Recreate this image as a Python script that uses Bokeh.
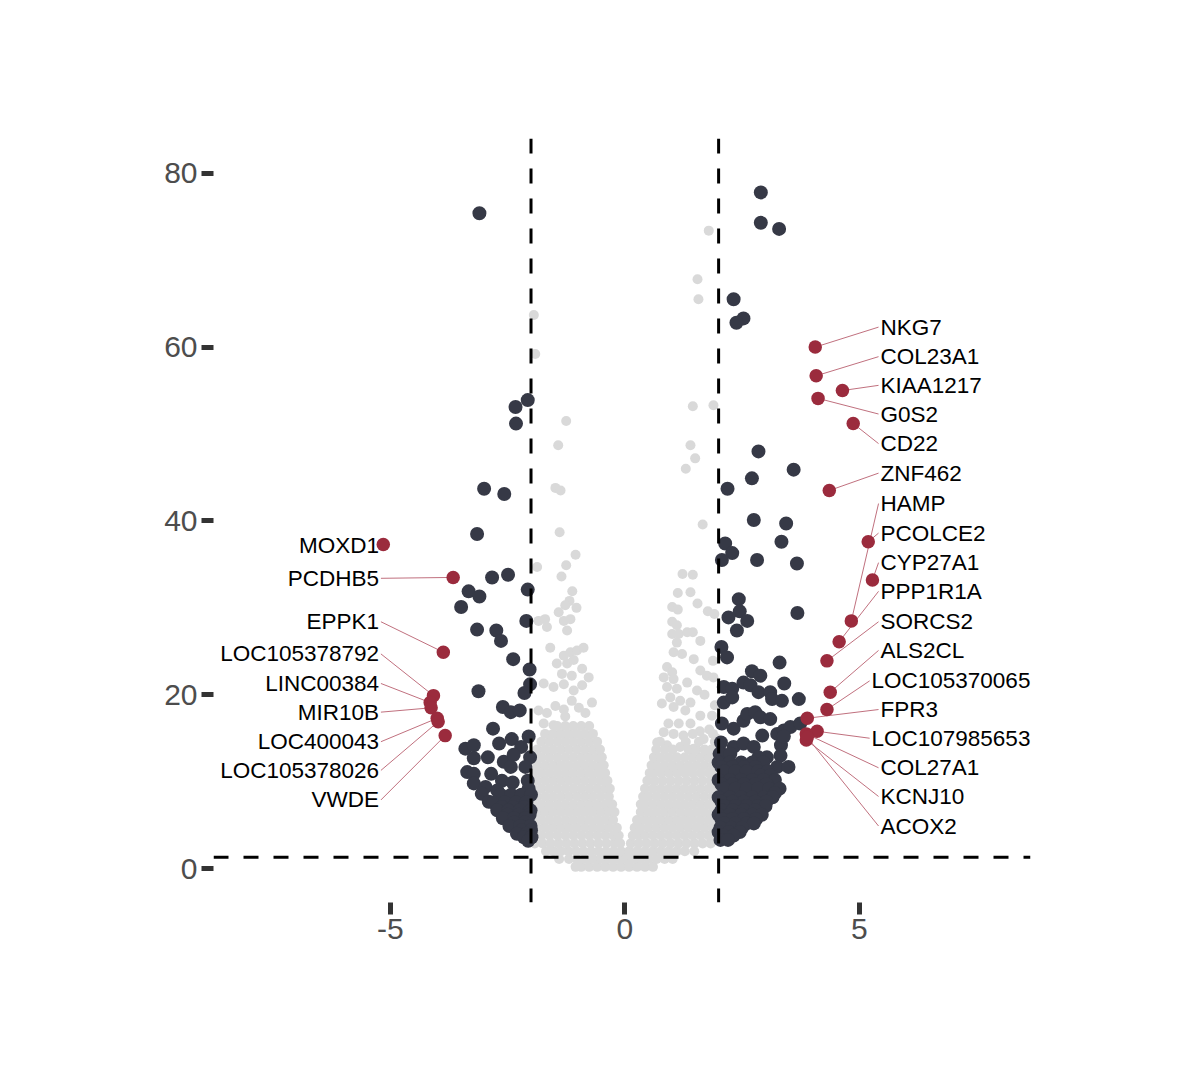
from bokeh.plotting import figure
from bokeh.models import Range1d, Span
from bokeh.embed import file_html
from bokeh.resources import INLINE
from bokeh.core.properties import value

# ---------------- data ----------------
# Non-significant genes (gray): dense rows (log2FC values per -log10 p row)
gray_rows_y = [0.2, 1.1, 2.0, 2.9, 3.8, 4.7, 5.6, 6.5, 7.4, 8.3, 9.2, 10.1, 11.0, 11.9, 12.8, 13.7, 14.6, 15.5, 16.4]
gray_rows_x = [
    [-1.05, -0.93, -0.76, -0.59, -0.42, -0.25, -0.08, 0.09, 0.26, 0.43, 0.60],
    [-1.40, -1.19, -1.02, -0.85, -0.68, -0.51, -0.34, -0.17, -0.03, 0.03, 0.17, 0.34, 0.51, 0.68, 0.85, 1.02],
    [-1.68, -1.52, -1.36, -1.20, -1.04, -0.88, -0.72, -0.56, -0.40, -0.24, -0.08, 0.09, 0.26, 0.43, 0.60, 0.77, 0.94, 1.11, 1.28, 1.48],
    [-1.92, -1.75, -1.58, -1.41, -1.24, -1.07, -0.90, -0.73, -0.56, -0.39, -0.22, -0.10, 0.13, 0.30, 0.47, 0.64, 0.81, 0.98, 1.15, 1.32, 1.49, 1.66, 1.83],
    [-1.95, -1.78, -1.61, -1.44, -1.27, -1.10, -0.93, -0.76, -0.59, -0.42, -0.25, -0.13, 0.17, 0.30, 0.43, 0.60, 0.77, 0.94, 1.11, 1.28, 1.45, 1.62, 1.79, 1.95],
    [-1.95, -1.87, -1.70, -1.53, -1.36, -1.19, -1.02, -0.85, -0.68, -0.51, -0.34, -0.17, 0.21, 0.34, 0.51, 0.68, 0.85, 1.02, 1.19, 1.36, 1.53, 1.70, 1.87, 1.95],
    [-1.95, -1.78, -1.61, -1.44, -1.27, -1.10, -0.93, -0.76, -0.59, -0.42, -0.25, 0.26, 0.43, 0.60, 0.77, 0.94, 1.11, 1.28, 1.45, 1.62, 1.79, 1.95],
    [-1.95, -1.87, -1.70, -1.53, -1.36, -1.19, -1.02, -0.85, -0.68, -0.51, -0.34, -0.22, 0.34, 0.51, 0.68, 0.85, 1.02, 1.19, 1.36, 1.53, 1.70, 1.87, 1.95],
    [-1.95, -1.78, -1.61, -1.44, -1.27, -1.10, -0.93, -0.76, -0.59, -0.42, -0.27, 0.34, 0.43, 0.60, 0.77, 0.94, 1.11, 1.28, 1.45, 1.62, 1.79, 1.95],
    [-1.95, -1.87, -1.70, -1.53, -1.36, -1.19, -1.02, -0.85, -0.68, -0.51, -0.34, 0.39, 0.51, 0.68, 0.85, 1.02, 1.19, 1.36, 1.53, 1.70, 1.87, 1.95],
    [-1.95, -1.78, -1.61, -1.44, -1.27, -1.10, -0.93, -0.76, -0.59, -0.42, -0.32, 0.43, 0.60, 0.77, 0.94, 1.11, 1.28, 1.45, 1.62, 1.79, 1.95],
    [-1.95, -1.87, -1.70, -1.53, -1.36, -1.19, -1.02, -0.85, -0.68, -0.51, -0.37, 0.48, 0.64, 0.81, 0.98, 1.15, 1.32, 1.49, 1.66, 1.83, 1.95],
    [-1.95, -1.78, -1.61, -1.44, -1.27, -1.10, -0.93, -0.76, -0.59, -0.42, 0.53, 0.60, 0.77, 0.94, 1.11, 1.28, 1.45, 1.62, 1.79, 1.95],
    [-1.95, -1.87, -1.70, -1.53, -1.36, -1.19, -1.02, -0.85, -0.68, -0.51, -0.45, 0.57, 0.68, 0.85, 1.02, 1.19, 1.36, 1.53, 1.70, 1.87, 1.95],
    [-1.95, -1.78, -1.61, -1.44, -1.27, -1.10, -0.93, -0.76, -0.59, -0.49, 0.62, 0.77, 0.94, 1.11, 1.28, 1.45, 1.62, 1.79, 1.92],
    [-1.87, -1.70, -1.53, -1.36, -1.19, -1.02, -0.85, -0.68, -0.53, 0.67, 0.85, 1.02, 1.36, 1.53, 1.70, 1.85],
    [-1.78, -1.61, -1.44, -1.27, -1.10, -0.93, -0.76, -0.59, 0.75, 1.30, 1.58, 1.92],
    [-1.70, -1.53, -1.36, -1.19, -1.02, -0.85, -0.68, 1.45, 1.88],
    [-1.44, -1.27, -1.10, -0.93, -0.76],
]
# Non-significant genes (gray): scattered points
gray_x = [-1.94, -1.91, -1.25, -1.42, -1.48, -1.37, -1.39, -1.05, -1.87, -1.25, -1.35, -1.12, -1.18, -1.27, -1.03,
          -1.41, -1.84, -1.70, -1.66, -1.30, -1.16, -1.23, -1.59, -1.30, -1.16, -1.02, -0.88, -1.45, -1.23, -1.09,
          -0.91, -1.34, -1.13, -0.77, -1.73, -1.52, -1.30, -1.09, -0.91, -1.13, -0.70, -1.48, -1.30, -0.98, -1.84,
          -1.66, -1.27, -0.84, -1.73, -1.52,
          1.79, 1.55, 1.57, 1.45, 1.89, 1.40, 1.50, 1.30, 1.66, 1.23, 1.45, 1.13, 1.40, 1.01, 1.13, 1.55, 1.77, 1.91,
          1.01, 1.11, 1.01, 1.15, 1.33, 1.45, 1.11, 1.61, 1.04, 1.22, 1.47, 1.88, 0.90, 1.01, 1.61, 0.83, 1.04, 1.33,
          1.75, 1.89, 0.90, 1.11, 1.54, 0.97, 1.18, 1.40, 0.79, 1.04, 1.29, 1.61, 1.86, 0.93, 1.15, 1.40, 0.83, 1.04,
          1.25, 1.68, 0.69, 0.90, 1.18, 1.47, 1.75, 1.70, 1.92, 1.80, 1.95, 1.60]
gray_y = [63.7, 59.2, 51.5, 48.7, 43.8, 43.5, 38.7, 36.1, 34.7, 34.9, 33.6, 31.9, 30.8, 30.3, 30.0,
          29.5, 28.5, 28.7, 27.8, 28.5, 28.7, 27.4, 25.4, 24.5, 24.9, 25.1, 25.4, 23.6, 23.6, 24.0,
          23.0, 22.4, 22.2, 22.0, 21.3, 20.9, 21.2, 20.5, 21.1, 19.3, 19.1, 18.7, 18.3, 18.5, 18.2,
          17.9, 17.5, 17.9, 16.7, 16.5,
          73.4, 67.8, 65.5, 53.2, 53.3, 48.7, 47.2, 46.0, 39.6, 33.9, 33.8, 31.7, 31.8, 30.1, 29.8, 30.5, 29.6, 29.3,
          28.4, 28.0, 27.0, 27.0, 27.2, 27.2, 26.0, 26.2, 24.9, 24.7, 24.1, 23.9, 23.2, 22.6, 22.8, 22.0, 21.8, 21.4,
          22.2, 22.0, 20.9, 20.7, 20.5, 19.7, 19.3, 19.1, 19.0, 18.6, 18.2, 17.6, 17.6, 16.7, 16.7, 16.7, 15.7, 15.5,
          15.3, 14.9, 14.5, 14.2, 14.0, 13.8, 13.4, 20.0, 18.8, 16.0, 15.0, 15.8]

# Significant genes (dark): scattered points
dark_x = [-3.10, -2.07, -2.33, -2.32, -3.00, -2.57, -3.15, -2.83, -2.49, -3.33, -3.10, -3.49, -2.07, -3.15, -2.74,
          -2.64, -2.10, -2.38, -2.03, -2.02, -2.14, -3.12, -2.60, -2.43, -2.24, -2.81, -2.05, -2.41, -2.68, -3.40,
          -3.22, -2.21, -3.22, -2.92, -2.02, -2.58, -2.37, -2.43, -2.12, -3.36, -3.22, -2.85, -3.22, -2.62, -2.39,
          -2.07, -2.97, -3.05, -2.72, -2.90, -2.51, -2.23, -2.05,
          2.90, 2.90, 3.29, 2.32, 2.53, 2.38, 2.85, 3.60, 2.71, 2.19, 2.75, 3.44, 3.34, 2.14, 2.29, 2.07, 2.82, 3.67,
          2.43, 2.45, 2.21, 2.61, 2.39, 3.68, 2.06, 2.18, 3.30, 2.71, 2.89, 3.40, 2.11, 2.29, 2.53, 2.68, 2.85, 3.10,
          3.14, 3.35, 3.71, 2.11, 2.29, 2.07, 2.32, 2.53, 2.61, 2.78, 2.89, 3.10, 2.93, 3.25, 3.39, 3.53, 3.74, 3.33,
          3.39, 3.32, 3.03, 3.25, 3.49, 2.07, 2.32, 2.53, 2.75, 2.85]
dark_y = [75.4, 53.9, 53.1, 51.2, 43.7, 43.1, 38.5, 33.5, 33.8, 31.9, 31.3, 30.1, 32.1, 27.5, 27.4,
          26.2, 28.5, 24.1, 22.9, 21.2, 20.2, 20.4, 18.6, 18.0, 18.2, 16.1, 15.2, 14.9, 14.4, 13.8,
          14.2, 14.0, 12.7, 12.8, 12.8, 12.3, 13.1, 11.7, 11.7, 11.1, 10.9, 10.9, 9.8, 10.1, 9.9,
          10.1, 9.4, 8.6, 9.0, 7.7, 8.2, 8.4, 9.2,
          77.8, 74.3, 73.6, 65.5, 63.3, 62.8, 48.0, 45.9, 44.9, 43.7, 40.1, 39.7, 37.6, 37.4, 36.3, 35.5, 35.5, 35.1,
          31.0, 29.6, 28.9, 28.5, 27.4, 29.4, 25.5, 24.3, 23.7, 22.7, 22.2, 21.3, 20.9, 20.7, 21.4, 21.1, 20.3, 20.3,
          19.5, 19.3, 19.5, 19.1, 19.7, 16.7, 16.1, 17.0, 17.8, 18.0, 17.4, 17.2, 15.3, 15.5, 15.9, 16.3, 16.7, 14.2,
          15.2, 13.0, 12.8, 11.7, 11.7, 13.2, 14.0, 14.4, 14.0, 12.8]
# Significant genes (dark): dense rows near the fold-change cut-offs
dark_rows_y = [8.5, 7.6, 7.1, 6.7, 6.2, 5.8, 5.3, 4.9, 4.4, 4.0, 3.6, 3.2,
               14.5, 13.2, 12.2, 11.7, 11.2, 10.7, 10.2, 9.7, 9.2, 8.7, 8.2, 7.7, 7.2, 6.7, 6.2, 5.7, 5.2, 4.7, 4.2, 3.8, 3.3]
dark_rows_x = [
    [-2.65, -2.42, -2.20, -2.00], [-2.80, -2.56, -2.32, -2.10], [-2.62, -2.38, -2.14], [-2.72, -2.48, -2.24, -2.01],
    [-2.50, -2.26, -2.03], [-2.60, -2.36, -2.12], [-2.36, -2.13], [-2.46, -2.23, -2.01], [-2.20, -2.00],
    [-2.30, -2.10], [-2.15, -1.99], [-2.06],
    [2.05], [2.02, 2.25], [2.00, 2.24, 2.48, 2.72, 2.95], [2.06, 2.30, 2.54, 2.78], [2.12, 2.36, 2.60, 2.84, 3.05],
    [2.90, 3.10], [2.00, 2.24, 2.48, 2.72, 2.96, 3.20], [2.06, 2.30, 2.54, 2.78, 3.02],
    [2.12, 2.36, 2.60, 2.84, 3.08, 3.30], [3.20], [2.00, 2.24, 2.48, 2.72, 2.96, 3.15],
    [2.06, 2.30, 2.54, 2.78, 3.02], [2.12, 2.36, 2.60, 2.84, 3.00], [2.06, 2.30, 2.54, 2.78],
    [2.00, 2.24, 2.48, 2.72, 2.92], [2.06, 2.30, 2.54, 2.80], [2.12, 2.36, 2.60, 2.75], [2.04, 2.28, 2.50],
    [2.00, 2.22, 2.45], [2.10, 2.32], [2.04, 2.20],
]

# Labelled top genes (red)
left_genes = ["MOXD1", "PCDHB5", "EPPK1", "LOC105378792", "LINC00384", "MIR10B", "LOC400043", "LOC105378026", "VWDE"]
left_fc = [-5.15, -3.66, -3.87, -4.08, -4.15, -4.13, -4.00, -3.98, -3.83]
left_p = [37.3, 33.5, 24.9, 19.9, 19.1, 18.5, 17.3, 16.9, 15.3]
right_genes = ["NKG7", "COL23A1", "KIAA1217", "G0S2", "CD22", "ZNF462", "HAMP", "PCOLCE2", "CYP27A1", "PPP1R1A",
               "SORCS2", "ALS2CL", "LOC105370065", "FPR3", "LOC107985653", "COL27A1", "KCNJ10", "ACOX2"]
right_fc = [4.06, 4.08, 4.64, 4.12, 4.87, 4.36, 4.83, 5.19, 5.28, 4.57, 4.31, 4.38, 4.31, 3.89, 4.10, 3.87, 3.87, 3.89]
right_p = [60.0, 56.7, 55.0, 54.1, 51.2, 43.5, 28.5, 37.6, 33.2, 26.1, 23.9, 20.3, 18.3, 17.3, 15.8, 15.5, 14.8, 15.1]

# label placement (repelled positions)
left_lab_x = [-5.24] * len(left_genes)
left_lab_y = [37.2, 33.4, 28.4, 24.7, 21.3, 18.0, 14.6, 11.3, 7.9]
right_lab_x = [5.45, 5.45, 5.45, 5.45, 5.45, 5.45, 5.45, 5.45, 5.45, 5.45, 5.45, 5.45, 5.26, 5.45, 5.26, 5.45, 5.45, 5.45]
right_lab_y = [62.3, 58.9, 55.6, 52.3, 48.9, 45.5, 42.0, 38.6, 35.2, 31.9, 28.4, 25.1, 21.6, 18.3, 15.0, 11.6, 8.3, 4.9]

fc_cut = 2.0
p_cut = 1.3
x_ticks = [-5, 0, 5]
x_tick_labels = {-5: "-5", 0: "0", 5: "5"}
y_ticks = [0, 20, 40, 60, 80]

# ---------------- build ----------------
GRAY = "#d9d9d9"
DARK = "#363946"
RED = "#9b2b3d"
FONT = "Liberation Sans"

gx, gy = list(gray_x), list(gray_y)
for yy, xs in zip(gray_rows_y, gray_rows_x):
    gx.extend(xs)
    gy.extend([yy] * len(xs))
dx, dy = list(dark_x), list(dark_y)
for yy, xs in zip(dark_rows_y, dark_rows_x):
    dx.extend(xs)
    dy.extend([yy] * len(xs))

W, H = 1184, 1064
p = figure(width=W, height=H, output_backend="svg", toolbar_location=None,
           x_range=Range1d(-8.77, 8.65), y_range=Range1d(-3.9, 84.0),
           min_border_left=213, min_border_right=154, min_border_top=138, min_border_bottom=162)
p.outline_line_color = None
p.grid.grid_line_color = None
p.background_fill_color = "white"
p.border_fill_color = "white"

p.scatter(gx, gy, size=10, fill_color=GRAY, line_color=None)
p.scatter(dx, dy, size=14, fill_color=DARK, line_color=None)

# segments from points to labels
seg_x0 = left_fc + right_fc
seg_y0 = left_p + right_p
seg_x1 = [v + 0.04 for v in left_lab_x] + [v - 0.04 for v in right_lab_x]
seg_y1 = left_lab_y + right_lab_y
p.segment(seg_x0, seg_y0, seg_x1, seg_y1, line_color="#b9606f", line_width=0.9)

p.scatter(left_fc + right_fc, left_p + right_p, size=13.5, fill_color=RED, line_color=None)

p.text(left_lab_x, left_lab_y, text=left_genes, text_align="right", text_baseline="middle",
       text_font=value(FONT), text_font_size="22.5px", text_color="black")
p.text(right_lab_x, right_lab_y, text=right_genes, text_align="left", text_baseline="middle",
       text_font=value(FONT), text_font_size="22.5px", text_color="black")

for loc in (-fc_cut, fc_cut):
    p.add_layout(Span(location=loc, dimension="height", line_color="black", line_width=3, line_dash="15 15"))
p.add_layout(Span(location=p_cut, dimension="width", line_color="black", line_width=3, line_dash="15 15"))

for ax in (p.xaxis[0], p.yaxis[0]):
    ax.axis_line_color = None
    ax.major_tick_in = 0
    ax.major_tick_out = 12
    ax.major_tick_line_width = 5
    ax.major_tick_line_color = "#333333"
    ax.minor_tick_line_color = None
    ax.major_label_text_font = FONT
    ax.major_label_text_font_size = "30px"
    ax.major_label_text_color = "#4d4d4d"
    ax.major_label_standoff = 4
p.xaxis.ticker = x_ticks
p.xaxis.major_label_overrides = x_tick_labels
p.yaxis.ticker = y_ticks

open("out.html", "w").write(file_html(p, INLINE))
